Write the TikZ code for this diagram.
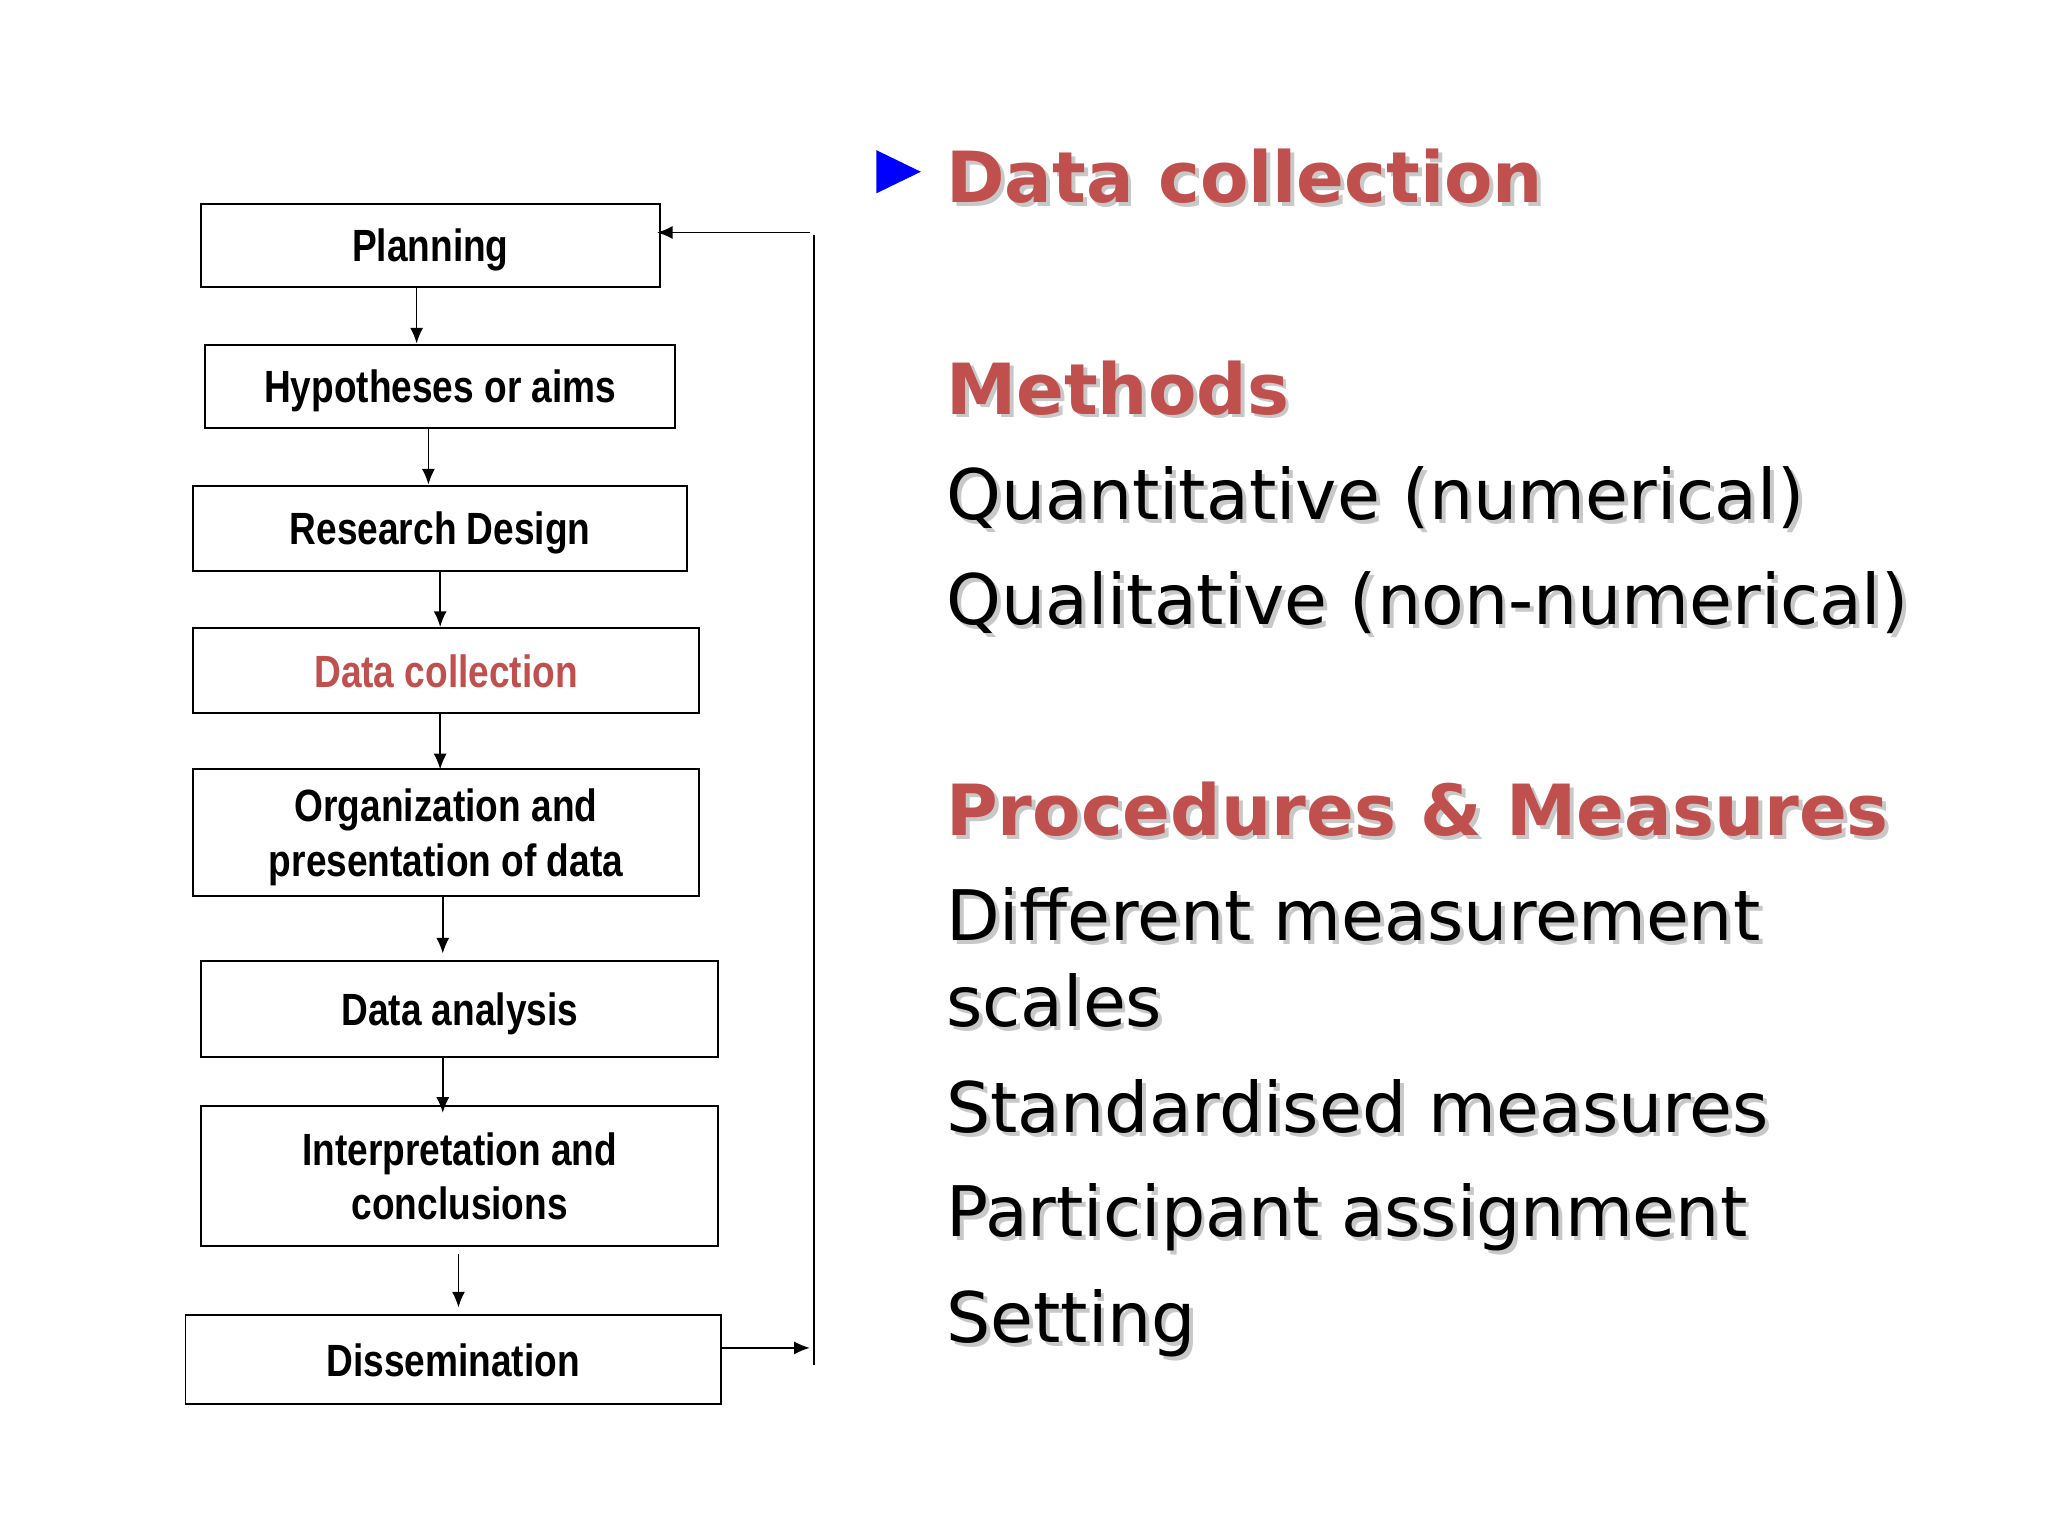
\documentclass[tikz,border=0pt]{standalone}
\usepackage{fontspec}
\setmainfont{DejaVu Sans}
\newfontfamily\narrowf[FakeStretch=0.82]{Liberation Sans}
\usetikzlibrary{arrows.meta}
\definecolor{hred}{RGB}{192,80,77}
\definecolor{shad}{RGB}{200,200,200}
\tikzset{
 x=0.5pt,y=-0.5pt,
 fbox/.style={draw,line width=0.7pt,inner sep=0pt,font=\narrowf\bfseries\fontsize{17.3}{21}\selectfont,align=center,text depth=0pt},
 arr/.style={-{Latex[length=6pt,width=5pt]},line width=0.6pt},
 head/.style={anchor=base west,inner sep=0pt,font=\bfseries\fontsize{27}{32}\selectfont},
 body/.style={anchor=base west,inner sep=0pt,font=\fontsize{26.7}{32}\selectfont},
}
\newcommand{\shtext}[5]{% style, colour, x, y, text
 \node[#1,text=shad] at (#3+3,#4+3) {#5};
 \node[#1,text=#2] at (#3,#4) {#5};}
\begin{document}
\begin{tikzpicture}
\useasboundingbox (0,0) rectangle (1568,1176);
\node[fbox,minimum width=175.5pt,minimum height=32pt] (p) at (329.5,188) {Planning};
\node[fbox,minimum width=180pt,minimum height=32pt] (h) at (337,296) {Hypotheses or aims};
\node[fbox,minimum width=189pt,minimum height=32.5pt] (r) at (337,404.5) {Research Design};
\node[fbox,minimum width=193.5pt,minimum height=32.5pt,text=hred] (d) at (341.5,513.5) {Data collection};
\node[fbox,minimum width=193.5pt,minimum height=48.5pt] (o) at (341.5,637.5) {Organization and\\presentation of data};
\node[fbox,minimum width=198pt,minimum height=36.5pt] (a) at (352,772.5) {Data analysis};
\node[fbox,minimum width=198pt,minimum height=53.5pt] (i) at (352,900.5) {Interpretation and\\conclusions};
\node[fbox,minimum width=205pt,minimum height=34pt] (s) at (347,1041) {Dissemination};
\draw[arr] (319,220) -- (319,263);
\draw[arr] (328,328) -- (328,371);
\draw[arr] (337,437) -- (337,480);
\draw[arr] (337,546) -- (337,589);
\draw[arr] (339,686) -- (339,730);
\draw[arr] (339,809) -- (339,852);
\draw[arr] (351,960) -- (351,1001);
\coordinate (fb1) at (620,1032);
\coordinate (t1) at (623,180);
\coordinate (t2) at (623,1045);
\coordinate (fb2) at (620,178);
\draw[arr] (552,1032) -- (fb1);
\draw[line width=0.6pt] (t1) -- (t2);
\draw[arr] (fb2) -- (503,178);
\fill[blue] (671,115) -- (705,131.5) -- (671,148) -- cycle;
\shtext{head}{hred}{724}{155}{Data collection}
\shtext{head}{hred}{724}{317}{Methods}
\shtext{body}{black}{724}{398}{Quantitative (numerical)}
\shtext{body}{black}{724}{478}{Qualitative (non-numerical)}
\shtext{head}{hred}{724}{640}{Procedures \& Measures}
\shtext{body}{black}{724}{720}{Different measurement}
\shtext{body}{black}{724}{786}{scales}
\shtext{body}{black}{724}{867}{Standardised measures}
\shtext{body}{black}{724}{947}{Participant assignment}
\shtext{body}{black}{724}{1028}{Setting}
\end{tikzpicture}
\end{document}
